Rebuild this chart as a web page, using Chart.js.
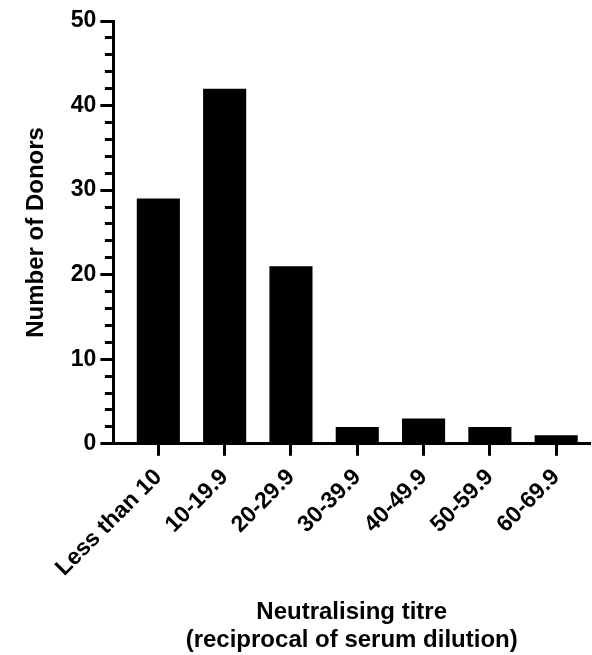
<!DOCTYPE html>
<html>
<head>
<meta charset="utf-8">
<script src="https://cdn.jsdelivr.net/npm/chart.js@4"></script>
<style>
  html, body { margin: 0; padding: 0; background: #fff; }
</style>
</head>
<body>
<canvas id="donorChart" width="592" height="655"></canvas>
<script>
const titreBands = ['Less than 10', '10-19.9', '20-29.9', '30-39.9', '40-49.9', '50-59.9', '60-69.9'];
const donorCounts = [29, 42, 21, 2, 3, 2, 1];
const yTicks = [0, 10, 20, 30, 40, 50];

const fontFamily = '"Liberation Sans", Arial, Helvetica, sans-serif';

const ctx = document.getElementById('donorChart');

new Chart(ctx, {
  type: 'bar',
  data: {
    datasets: [{
      label: 'Number of Donors',
      data: donorCounts.map((v, i) => ({ x: i, y: v })),
      backgroundColor: '#000000',
      borderWidth: 0,
      barPercentage: 0.65,
      categoryPercentage: 1
    }]
  },
  options: {
    responsive: false,
    animation: false,
    layout: {
      padding: { top: 21, left: 22, right: 2, bottom: 1 }
    },
    plugins: {
      legend: { display: false },
      tooltip: { enabled: false }
    },
    scales: {
      x: {
        type: 'linear',
        min: -0.678,
        max: 6.51,
        offset: false,
        afterBuildTicks: (scale) => {
          scale.ticks = titreBands.map((b, i) => ({ value: i }));
        },
        ticks: {
          autoSkip: false,
          minRotation: 45,
          maxRotation: 45,
          padding: 8,
          color: '#000',
          font: { family: fontFamily, size: 23, weight: 'bold' },
          callback: (v) => titreBands[v]
        },
        grid: {
          offset: false,
          drawOnChartArea: false,
          drawTicks: true,
          tickLength: 12,
          tickWidth: 3,
          tickColor: '#000'
        },
        border: { color: '#000', width: 3 },
        title: {
          display: true,
          text: ['Neutralising titre', '(reciprocal of serum dilution)'],
          color: '#000',
          font: { family: fontFamily, size: 24, weight: 'bold', lineHeight: 1.17 },
          padding: { top: 8, bottom: 0 }
        }
      },
      y: {
        min: 0,
        max: 50,
        ticks: {
          stepSize: 2,
          autoSkip: false,
          padding: 4,
          color: '#000',
          font: { family: fontFamily, size: 23, weight: 'bold' },
          callback: (v) => yTicks.includes(v) ? v : ''
        },
        grid: {
          drawOnChartArea: false,
          drawTicks: true,
          tickLength: 13,
          tickWidth: 3,
          tickColor: '#000',
          // minor ticks: only the inner part of the tick is drawn
          tickBorderDash: (c) => yTicks.includes(c.tick.value) ? [] : [7, 4.5],
          tickBorderDashOffset: (c) => yTicks.includes(c.tick.value) ? 0 : 7
        },
        border: { color: '#000', width: 3 },
        title: {
          display: true,
          text: 'Number of Donors',
          color: '#000',
          font: { family: fontFamily, size: 24, weight: 'bold' },
          padding: { top: 0, bottom: 16 }
        }
      }
    }
  }
});
</script>
</body>
</html>
